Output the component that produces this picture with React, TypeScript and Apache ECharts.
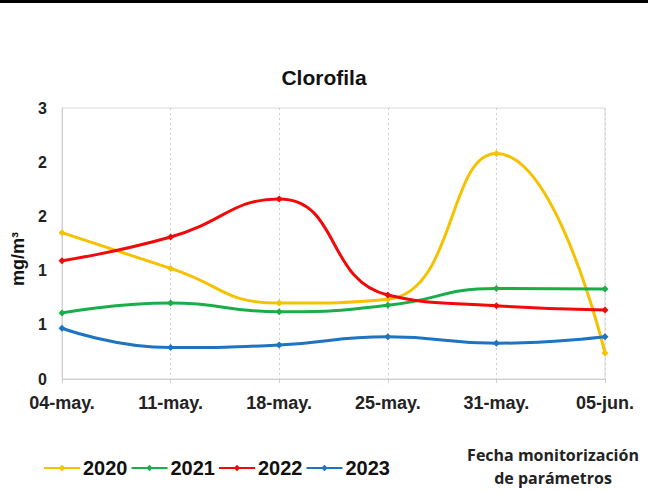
import React, { useEffect, useRef } from "react";
import * as echarts from "echarts";

const categories = ["04-may.", "11-may.", "18-may.", "25-may.", "31-may.", "05-jun."];
const s2020 = [1.35, 1.02, 0.7, 0.735, 2.08, 0.24];
const s2021 = [0.61, 0.7, 0.62, 0.68, 0.835, 0.83];
const s2022 = [1.09, 1.31, 1.66, 0.775, 0.676, 0.637];
const s2023 = [0.468, 0.29, 0.314, 0.39, 0.33, 0.39];
const seriesNames = ["2020", "2021", "2022", "2023"];
const colors = ["#F5C200", "#1AAE4A", "#F00A0A", "#1F74C2"];

export default function App() {
  const ref = useRef<HTMLDivElement>(null);
  useEffect(() => {
    if (!ref.current) return;
    const chart = echarts.init(ref.current, null, { renderer: "svg" });
    const data = [s2020, s2021, s2022, s2023];
    chart.setOption({
      animation: false,
      backgroundColor: "#fff",
      title: {
        text: "Clorofila",
        left: "center",
        top: 62,
        textStyle: { fontFamily: "Liberation Sans", fontWeight: "bold", fontSize: 21, color: "#111" },
      },
      grid: { left: 62, right: 43, top: 108, bottom: 113, show: true, borderColor: "#d9d9d9", borderWidth: 1 },
      legend: {
        left: 38,
        top: 453,
        itemWidth: 36,
        itemHeight: 8,
        itemGap: 3,
        textStyle: { fontFamily: "Liberation Sans", fontWeight: "bold", fontSize: 20, color: "#111", padding: [0, 0, 0, -2] },
        data: seriesNames,
      },
      xAxis: {
        type: "category",
        data: categories,
        boundaryGap: false,
        axisLine: { lineStyle: { color: "#d0d0d0" } },
        axisTick: { show: true, length: 4, lineStyle: { color: "#d0d0d0" } },
        axisLabel: { fontFamily: "Liberation Sans", fontWeight: "bold", fontSize: 18, color: "#222", margin: 15 },
        splitLine: { show: true, lineStyle: { color: "#cfcfcf", type: [2, 3] } },
      },
      yAxis: {
        type: "value",
        min: 0,
        max: 2.5,
        interval: 0.5,
        axisLine: { show: true, lineStyle: { color: "#d0d0d0" } },
        axisTick: { show: false },
        splitLine: { show: false },
        axisLabel: {
          fontFamily: "Liberation Sans",
          fontWeight: "bold",
          fontSize: 16,
          color: "#222",
          margin: 15,
          formatter: (v: number) => String(Math.round(v)),
        },
      },
      graphic: [
        { type: "rect", left: 0, top: 0, shape: { width: 648, height: 3 }, style: { fill: "#000" } },
        {
          type: "text",
          x: 18,
          y: 259,
          rotation: Math.PI / 2,
          style: {
            text: "mg/m³",
            fontFamily: "Liberation Sans",
            fontWeight: "bold",
            fontSize: 18,
            fill: "#111",
            align: "center",
            verticalAlign: "middle",
          },
        },
        {
          type: "text",
          x: 553,
          y: 466,
          style: {
            text: "Fecha monitorización\nde parámetros",
            fontFamily: "Open Sans",
            fontWeight: "bold",
            fontSize: 16,
            lineHeight: 23,
            fill: "#222",
            align: "center",
            verticalAlign: "middle",
          },
        },
      ],
      series: seriesNames.map((n, i) => ({
        name: n,
        type: "line",
        data: data[i],
        smooth: 0.5,
        symbol: "diamond",
        symbolSize: 7,
        lineStyle: { width: 3, color: colors[i] },
        itemStyle: { color: colors[i] },
      })),
    });
    return () => chart.dispose();
  }, []);
  return <div ref={ref} style={{ width: 648, height: 492, position: "absolute", left: 0, top: 0 }} />;
}
